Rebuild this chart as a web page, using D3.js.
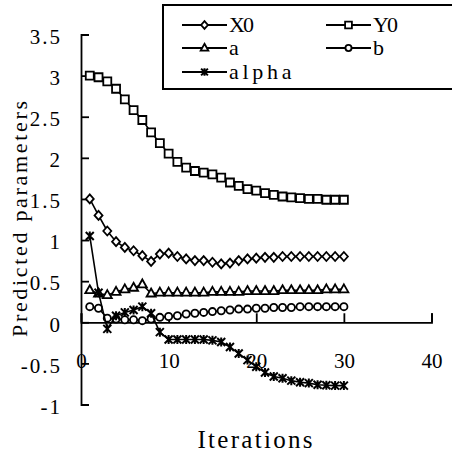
<!DOCTYPE html>
<html>
<head>
<meta charset="utf-8">
<script src="https://cdn.jsdelivr.net/npm/d3@7"></script>
<style>
  body { margin: 0; background: #fff; }
</style>
</head>
<body>
<svg id="chart"></svg>
<script>
// data
const iterations = [1, 2, 3, 4, 5, 6, 7, 8, 9, 10, 11, 12, 13, 14, 15, 16, 17, 18, 19, 20, 21, 22, 23, 24, 25, 26, 27, 28, 29, 30];
const x0Values = [1.50, 1.30, 1.11, 0.98, 0.91, 0.87, 0.81, 0.74, 0.83, 0.84, 0.80, 0.77, 0.75, 0.75, 0.73, 0.71, 0.72, 0.75, 0.77, 0.78, 0.79, 0.79, 0.80, 0.80, 0.80, 0.80, 0.80, 0.80, 0.80, 0.80];
const y0Values = [3.00, 2.98, 2.93, 2.84, 2.71, 2.58, 2.46, 2.31, 2.18, 2.05, 1.95, 1.88, 1.84, 1.82, 1.80, 1.76, 1.70, 1.66, 1.62, 1.60, 1.57, 1.55, 1.53, 1.52, 1.51, 1.50, 1.50, 1.49, 1.49, 1.49];
const aValues = [0.39, 0.35, 0.33, 0.37, 0.40, 0.42, 0.46, 0.35, 0.36, 0.36, 0.36, 0.36, 0.36, 0.36, 0.37, 0.37, 0.37, 0.37, 0.38, 0.38, 0.38, 0.38, 0.39, 0.39, 0.39, 0.39, 0.39, 0.40, 0.40, 0.40];
const bValues = [0.19, 0.17, 0.05, 0.04, 0.03, 0.03, 0.02, 0.04, 0.06, 0.07, 0.08, 0.10, 0.11, 0.12, 0.13, 0.14, 0.15, 0.16, 0.16, 0.17, 0.17, 0.18, 0.18, 0.18, 0.19, 0.19, 0.19, 0.19, 0.19, 0.19];
const alphaValues = [1.05, 0.36, -0.08, 0.08, 0.12, 0.15, 0.19, 0.11, -0.12, -0.21, -0.21, -0.21, -0.21, -0.21, -0.22, -0.24, -0.30, -0.38, -0.46, -0.54, -0.61, -0.66, -0.68, -0.71, -0.73, -0.74, -0.76, -0.765, -0.77, -0.77];

const seriesNames = ['X0', 'Y0', 'a', 'b', 'alpha'];
const seriesMarkers = ['diamond', 'square', 'triangle', 'circle', 'star'];
const xTicks = [0, 10, 20, 30, 40];
const yTicks = [-1, -0.5, 0, 0.5, 1, 1.5, 2, 2.5, 3, 3.5];

const allValues = [x0Values, y0Values, aValues, bValues, alphaValues];
const series = seriesNames.map((name, k) => ({
  name: name,
  marker: seriesMarkers[k],
  points: iterations.map((it, i) => ({x: it, y: allValues[k][i]}))
}));

const FONT = '"Liberation Serif"';

const width = 452, height = 454;
const margin = {top: 34.5, right: 20.5, bottom: 49.5, left: 81};
const innerW = width - margin.left - margin.right;
const innerH = height - margin.top - margin.bottom;

const svg = d3.select('#chart')
    .attr('width', width)
    .attr('height', height);

svg.append('rect').attr('width', width).attr('height', height).attr('fill', '#fff');

const chart = svg.append('g')
    .attr('transform', `translate(${margin.left},${margin.top})`);

const x = d3.scaleLinear().domain([0, 40]).range([0, innerW]);
const y = d3.scaleLinear().domain([-1, 3.5]).range([innerH, 0]);

// marker shapes, centred on 0,0
function markerPath(type, s) {
  switch (type) {
    case 'diamond':
      return `M0,${-4.5 * s}L${4 * s},0L0,${4.5 * s}L${-4 * s},0Z`;
    case 'square':
      return `M${-4 * s},${-4 * s}H${4 * s}V${4 * s}H${-4 * s}Z`;
    case 'triangle':
      return `M0,${-5 * s}L${4.5 * s},${3 * s}L${-4.5 * s},${3 * s}Z`;
    case 'circle':
      return `M${-3.6 * s},0A${3.6 * s},${3.6 * s} 0 1,0 ${3.6 * s},0A${3.6 * s},${3.6 * s} 0 1,0 ${-3.6 * s},0Z`;
    case 'star':
      return `M${-4 * s},${-4 * s}L${4 * s},${4 * s}M${4 * s},${-4 * s}L${-4 * s},${4 * s}M0,${-4.5 * s}V${4.5 * s}`;
  }
}

// x axis along y = 0, ticks pointing up
const xAxis = d3.axisBottom(x)
    .tickValues(xTicks)
    .tickSize(-9)
    .tickPadding(31)
    .tickFormat(d => String(d));

const xAxisG = chart.append('g')
    .attr('class', 'axis x-axis')
    .attr('transform', `translate(0,${y(0)})`)
    .call(xAxis);

// y axis, ticks pointing right
const yAxis = d3.axisLeft(y)
    .tickValues(yTicks)
    .tickSize(-8)
    .tickPadding(19)
    .tickFormat(d => String(d));

const yAxisG = chart.append('g')
    .attr('class', 'axis y-axis')
    .call(yAxis);

chart.selectAll('.axis path, .axis line')
    .attr('stroke', '#000')
    .attr('stroke-width', 1.8);
chart.selectAll('.axis text')
    .style('font-family', FONT)
    .attr('font-size', 21)
    .attr('fill', '#000');
yAxisG.selectAll('text').attr('dy', '0.42em').style('letter-spacing', '2px');

// lines + markers
const line = d3.line().x(d => x(d.x)).y(d => y(d.y));

const seriesG = chart.selectAll('.series')
    .data(series)
  .join('g')
    .attr('class', 'series');

seriesG.append('path')
    .attr('d', d => line(d.points))
    .attr('fill', 'none')
    .attr('stroke', '#000')
    .attr('stroke-width', 1.6);

seriesG.each(function(s) {
  d3.select(this).selectAll('.mark')
      .data(s.points)
    .join('path')
      .attr('class', 'mark')
      .attr('transform', d => `translate(${x(d.x)},${y(d.y)})`)
      .attr('d', markerPath(s.marker, 1))
      .attr('fill', s.marker === 'star' ? 'none' : '#fff')
      .attr('stroke', '#000')
      .attr('stroke-width', s.marker === 'star' ? 2 : 1.8);
});

// axis titles
svg.append('text')
    .attr('transform', 'translate(27,219) rotate(-90)')
    .attr('text-anchor', 'middle')
    .attr('font-size', 22)
    .attr('textLength', 236)
    .attr('lengthAdjust', 'spacing')
    .style('font-family', FONT)
    .text('Predicted parameters');

svg.append('text')
    .attr('x', 255)
    .attr('y', 448)
    .attr('text-anchor', 'middle')
    .attr('font-size', 25)
    .attr('textLength', 115)
    .attr('lengthAdjust', 'spacing')
    .style('font-family', FONT)
    .text('Iterations');

// legend
const legend = svg.append('g').attr('class', 'legend');
legend.append('rect')
    .attr('x', 163).attr('y', 5)
    .attr('width', 320).attr('height', 84)
    .attr('fill', '#fff')
    .attr('stroke', '#000')
    .attr('stroke-width', 2);

const legendPos = [[182, 25], [326, 25], [182, 48], [326, 48], [182, 72]];
const legendItems = legend.selectAll('.legend-item')
    .data(series)
  .join('g')
    .attr('class', 'legend-item')
    .attr('transform', (d, i) => `translate(${legendPos[i][0]},${legendPos[i][1]})`);

legendItems.append('line')
    .attr('x1', 0).attr('x2', 45)
    .attr('stroke', '#000')
    .attr('stroke-width', 1.8);

legendItems.append('path')
    .attr('transform', 'translate(22.5,0)')
    .attr('d', d => markerPath(d.marker, 0.85))
    .attr('fill', d => d.marker === 'star' ? 'none' : '#fff')
    .attr('stroke', '#000')
    .attr('stroke-width', d => d.marker === 'star' ? 2 : 1.8);

legendItems.append('text')
    .attr('x', 47)
    .attr('y', 7)
    .attr('font-size', 22)
    .attr('textLength', d => d.name.length * 12.5)
    .attr('lengthAdjust', 'spacing')
    .style('font-family', FONT)
    .text(d => d.name);
</script>
</body>
</html>
